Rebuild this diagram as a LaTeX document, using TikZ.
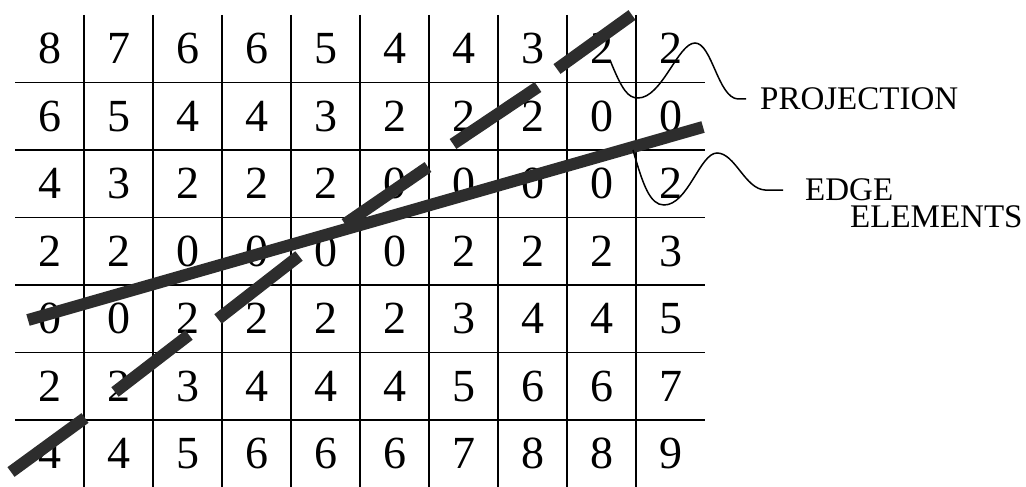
\documentclass[tikz,border=0pt]{standalone}
\usepackage{fontspec}
\setmainfont{Liberation Serif}
\usepackage{tikz}
\usetikzlibrary{positioning}
\definecolor{edgegray}{RGB}{45,45,45}
\tikzset{
  gridline/.style={line width=1.8pt, black},
  num/.style={inner sep=0pt, font=\fontsize{46}{46}\selectfont},
  bar/.style={line width=12pt, edgegray},
  wave/.style={line width=1.5pt, black},
  lbl/.style={inner sep=0pt, font=\fontsize{33}{27}\selectfont}
}

\begin{document}
\begin{tikzpicture}[x=1pt, y=-1pt]
  \useasboundingbox (0,0) rectangle (1026,487);
  % grid lines
  \foreach \c in {1,...,9}
    \draw[gridline] ({15+69*\c},15) -- ({15+69*\c},487);
  \foreach \r in {1,...,6}
    \draw[gridline] (15,{15+67.5*\r}) -- (705,{15+67.5*\r});
  % cell values
  \foreach \row [count=\r] in {{8,7,6,6,5,4,4,3,2,2},{6,5,4,4,3,2,2,2,0,0},
      {4,3,2,2,2,0,0,0,0,2},{2,2,0,0,0,0,2,2,2,3},{0,0,2,2,2,2,3,4,4,5},
      {2,2,3,4,4,4,5,6,6,7},{4,4,5,6,6,6,7,8,8,9}}
    \foreach \v [count=\c] in \row
      \node[num] (n-\r-\c) at ({15+69*(\c-0.5)},{15+67.5*(\r-0.5)}) {\v};
  % edge elements
  \draw[bar] (28,320) -- (703,127);
  \draw[bar] (557,69) -- (632,15);
  \draw[bar] (453,144) -- (538,87);
  \draw[bar] (345,224) -- (428,167);
  \draw[bar] (218,319) -- (299,256);
  \draw[bar] (115,392) -- (189,335);
  \draw[bar] (11,472) -- (85,418);
  % labels
  \coordinate (pend) at (746,99);
  \node[lbl, right=14pt of pend] (proj) {PROJECTION};
  \coordinate (eend) at (783,190);
  \node[lbl, right=22pt of eend] (edge) {EDGE};
  \node[lbl, anchor=north west] (elem) at ([xshift=45pt, yshift=-4pt]edge.south west) {ELEMENTS};
  \draw[wave] (610,60) .. controls (622,90) and (628,98) .. (638,98)
    .. controls (662,98) and (678,43) .. (695,43)
    .. controls (712,43) and (718,98) .. (738,99) -- (pend);
  \draw[wave] (633,150) .. controls (643,185) and (650,205) .. (664,205)
    .. controls (688,205) and (700,153) .. (717,153)
    .. controls (735,153) and (745,189) .. (765,190) -- (eend);
\end{tikzpicture}
\end{document}
